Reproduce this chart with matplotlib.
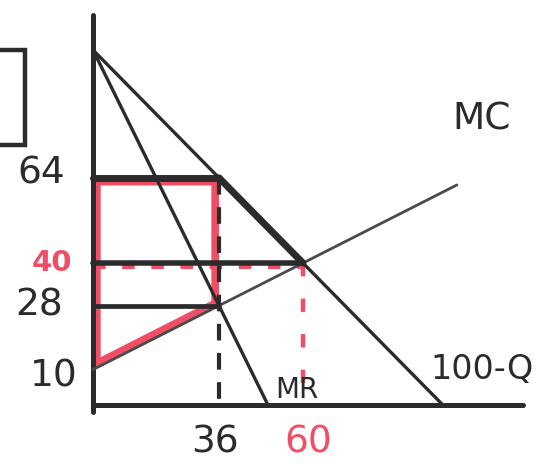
import matplotlib.pyplot as plt
from matplotlib.patches import Polygon, Rectangle
from matplotlib.transforms import offset_copy

# curves as (quantity, price) end points
demand_q = [0, 100]
demand_p = [100, 0]
mr_q = [0, 50]
mr_p = [100, 0]
mc_q = [0, 104]
mc_p = [10, 62]

# monopoly vs competitive outcome
q_mono, p_mono, mc_at_mono = 36, 64, 28
q_comp, p_comp = 60, 40
mc_intercept = 10

ink = '#2b2b2b'
red = '#ef4f66'

fig = plt.figure(figsize=(5.58, 4.70), dpi=100)
ax = fig.add_axes([0, 0, 1, 1])
ax.set_xlim(-26.6, 132.9)
ax.set_ylim(-18.3, 114.1)

for side in ['top', 'right']:
    ax.spines[side].set_visible(False)
for side in ['left', 'bottom']:
    ax.spines[side].set_position(('data', 0))
    ax.spines[side].set_color(ink)
    ax.spines[side].set_linewidth(3.6)
    ax.spines[side].set_capstyle('round')
ax.spines['left'].set_bounds(-2, 110)
ax.spines['bottom'].set_bounds(0, 123)
ax.set_xticks([])
ax.set_yticks([])

# producer surplus under monopoly, outlined on the inside edge
surplus = Polygon([(0, p_mono), (q_mono, p_mono), (q_mono, mc_at_mono), (0, mc_intercept)],
                  closed=True, fill=False, edgecolor=red, lw=11, joinstyle='miter', zorder=2)
ax.add_patch(surplus)
surplus.set_clip_path(surplus)

below = offset_copy(ax.transData, fig=fig, x=0, y=-3, units='points')
ax.plot([0, q_comp], [p_comp, p_comp], color=red, lw=3, ls=(0, (3, 4)), transform=below, zorder=2)
ax.plot([q_comp, q_comp], [p_comp, 0], color=red, lw=3.2, ls=(0, (3, 5)), zorder=2)

# curves
ax.plot(mc_q, mc_p, color='#4a4a4a', lw=2, solid_capstyle='round', zorder=3)
ax.plot(demand_q, demand_p, color=ink, lw=2.4, solid_capstyle='round', zorder=3)
ax.plot(mr_q, mr_p, color=ink, lw=2.4, solid_capstyle='round', zorder=3)
ax.plot([q_mono, q_comp], [p_mono, p_comp], color=ink, lw=5, solid_capstyle='round', zorder=4)

# price levels and the monopoly quantity
ax.plot([0, q_mono], [p_mono, p_mono], color=ink, lw=5, solid_capstyle='round', zorder=4)
ax.plot([0, q_comp], [p_comp, p_comp], color=ink, lw=4, solid_capstyle='round', zorder=4)
ax.plot([0, q_mono], [mc_at_mono, mc_at_mono], color=ink, lw=3.4, solid_capstyle='round', zorder=4)
ax.plot([q_mono, q_mono], [p_mono, 0], color=ink, lw=3, ls=(0, (4, 3)), zorder=4)

txt = dict(textcoords='offset points', fontsize=27, color=ink)
ax.annotate('64', (0, p_mono), xytext=(-20, 3), ha='right', va='center', **txt)
ax.annotate('28', (0, mc_at_mono), xytext=(-22, 0), ha='right', va='center', **txt)
ax.annotate('10', (0, mc_intercept), xytext=(-11, -5), ha='right', va='center', **txt)
ax.annotate('36', (q_mono, 0), xytext=(-3, -14), ha='center', va='top', **txt)
ax.annotate('40', (0, p_comp), xytext=(-15, 0), ha='right', va='center',
            textcoords='offset points', fontsize=21, color=red, fontweight='bold')
ax.annotate('60', (q_comp, 0), xytext=(4, -14), ha='center', va='top',
            textcoords='offset points', fontsize=27, color=red)
ax.annotate('MR', (mr_q[1], mr_p[1]), xytext=(5, 1), ha='left', va='bottom',
            textcoords='offset points', fontsize=20, color=ink)
ax.annotate('MC', (mc_q[1], mc_p[1]), xytext=(-3, 34), ha='left', va='bottom', **txt)
ax.annotate('100-Q', (90, 10), xytext=(16, 0), ha='left', va='center',
            textcoords='offset points', fontsize=24, color=ink)

# frame edge poking in at the top left
ax.add_patch(Rectangle((-0.05, 0.691), 0.095, 0.203, transform=ax.transAxes,
                       fill=False, lw=3.2, ec=ink, clip_on=False))

fig.savefig('out.png', dpi=100)
